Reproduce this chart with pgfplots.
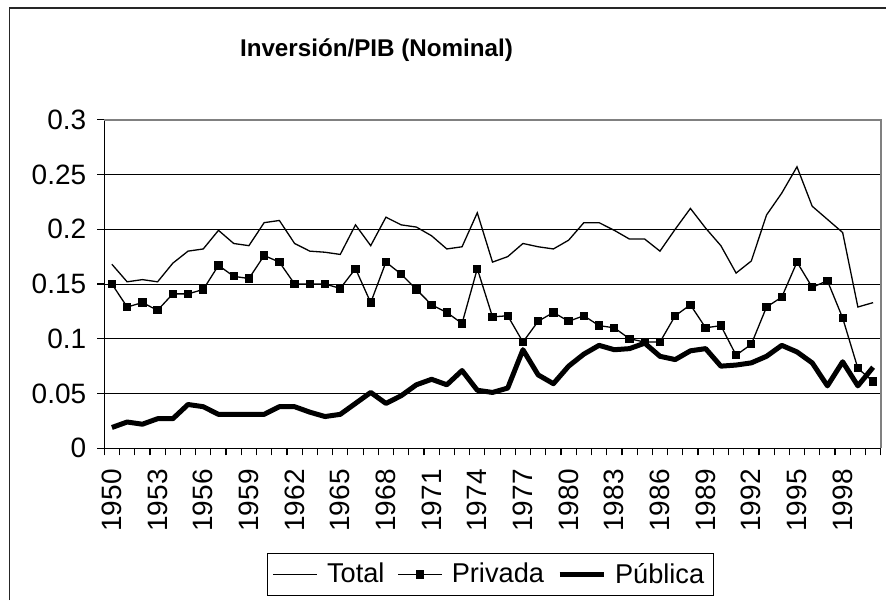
\documentclass[border=0pt]{standalone}
\usepackage{pgfplots}
\pgfplotsset{compat=1.18}
\usepackage{fontspec}
\setmainfont{Liberation Sans}
\definecolor{framegray}{RGB}{128,128,128}
\begin{document}
\begin{tikzpicture}
\useasboundingbox (0,0) rectangle (443pt,300pt);
\draw[line width=0.8pt, black!85] (4.75pt,0pt) -- (4.75pt,295.85pt) -- (443pt,295.85pt);
\node[font=\fontsize{12.1}{14}\selectfont\bfseries] at (188.25pt,275pt) {Inversión/PIB (Nominal)};
\begin{axis}[
  at={(52.15pt,75.85pt)}, anchor=south west,
  width=388.2pt, height=164.3pt, scale only axis,
  xmin=1949.5, xmax=2000.5, ymin=0, ymax=0.3,
  axis x line*=bottom, axis y line*=left,
  axis line style={line width=0.6pt, black, -},
  tick align=outside, major tick length=3.5pt,
  tick style={line width=0.6pt, black},
  ytick={0,0.05,...,0.3},
  yticklabels={0,0.05,0.1,0.15,0.2,0.25,0.3},
  yticklabel style={font=\fontsize{14}{16}\selectfont, xshift=-2pt},
  ymajorgrids, grid style={line width=0.5pt, black},
  xtick={1949.5,1950.5,...,2000.5},
  xticklabels={},
  extra x ticks={1950,1953,...,1998},
  extra x tick labels={1950,1953,1956,1959,1962,1965,1968,1971,1974,1977,1980,1983,1986,1989,1992,1995,1998},
  extra x tick style={major tick length=0pt, xticklabel style={rotate=90, anchor=east, font=\fontsize{14}{16}\selectfont, xshift=-7pt}},
  /pgf/number format/assume math mode=true,
  legend columns=-1,
  legend style={at={(0.4974,-0.384)}, anchor=center, draw=black, line width=0.5pt,
    font=\fontsize{13.6}{16}\selectfont, inner sep=2.5pt,
    /tikz/every odd column/.append style={column sep=2.5pt},
    /tikz/every even column/.append style={column sep=4.5pt}},
  legend image code/.code={\draw[mark repeat=2,mark phase=2,#1] plot coordinates {(0pt,0pt) (11pt,0pt) (22pt,0pt)};},
  after end axis/.code={\draw[framegray, line width=1pt] (rel axis cs:0,1) -- (rel axis cs:1,1) -- (rel axis cs:1,0);},
]
\addplot[black, line width=0.65pt, mark=none] coordinates {
(1950,0.168)(1951,0.152)(1952,0.154)(1953,0.152)(1954,0.169)(1955,0.180)(1956,0.182)(1957,0.199)(1958,0.187)(1959,0.185)
(1960,0.206)(1961,0.208)(1962,0.187)(1963,0.180)(1964,0.179)(1965,0.177)(1966,0.204)(1967,0.185)(1968,0.211)(1969,0.204)
(1970,0.202)(1971,0.194)(1972,0.182)(1973,0.184)(1974,0.215)(1975,0.170)(1976,0.175)(1977,0.187)(1978,0.184)(1979,0.182)
(1980,0.190)(1981,0.206)(1982,0.206)(1983,0.199)(1984,0.191)(1985,0.191)(1986,0.180)(1987,0.200)(1988,0.219)(1989,0.201)
(1990,0.185)(1991,0.160)(1992,0.171)(1993,0.213)(1994,0.233)(1995,0.257)(1996,0.221)(1997,0.209)(1998,0.197)(1999,0.129)
(2000,0.133)};
\addlegendentry{Total}
\addplot[black, line width=0.65pt, mark=square*, mark size=1.75pt, mark options={solid}] coordinates {
(1950,0.150)(1951,0.129)(1952,0.133)(1953,0.126)(1954,0.141)(1955,0.141)(1956,0.145)(1957,0.167)(1958,0.157)(1959,0.155)
(1960,0.176)(1961,0.170)(1962,0.150)(1963,0.150)(1964,0.150)(1965,0.146)(1966,0.164)(1967,0.133)(1968,0.170)(1969,0.159)
(1970,0.145)(1971,0.131)(1972,0.124)(1973,0.114)(1974,0.164)(1975,0.120)(1976,0.121)(1977,0.097)(1978,0.116)(1979,0.124)
(1980,0.116)(1981,0.121)(1982,0.112)(1983,0.110)(1984,0.100)(1985,0.097)(1986,0.097)(1987,0.121)(1988,0.131)(1989,0.110)
(1990,0.112)(1991,0.085)(1992,0.095)(1993,0.129)(1994,0.138)(1995,0.170)(1996,0.147)(1997,0.153)(1998,0.119)(1999,0.073)
(2000,0.061)};
\addlegendentry{Privada}
\addplot[black, line width=2.5pt, mark=none, line join=round] coordinates {
(1950,0.019)(1951,0.024)(1952,0.022)(1953,0.027)(1954,0.027)(1955,0.040)(1956,0.038)(1957,0.031)(1958,0.031)(1959,0.031)
(1960,0.031)(1961,0.038)(1962,0.038)(1963,0.033)(1964,0.029)(1965,0.031)(1966,0.041)(1967,0.051)(1968,0.041)(1969,0.048)
(1970,0.058)(1971,0.063)(1972,0.058)(1973,0.071)(1974,0.053)(1975,0.051)(1976,0.055)(1977,0.090)(1978,0.067)(1979,0.059)
(1980,0.075)(1981,0.086)(1982,0.094)(1983,0.090)(1984,0.091)(1985,0.096)(1986,0.084)(1987,0.081)(1988,0.089)(1989,0.091)
(1990,0.075)(1991,0.076)(1992,0.078)(1993,0.084)(1994,0.094)(1995,0.088)(1996,0.078)(1997,0.057)(1998,0.079)(1999,0.057)
(2000,0.074)};
\addlegendentry{Pública}
\end{axis}
\end{tikzpicture}
\end{document}
